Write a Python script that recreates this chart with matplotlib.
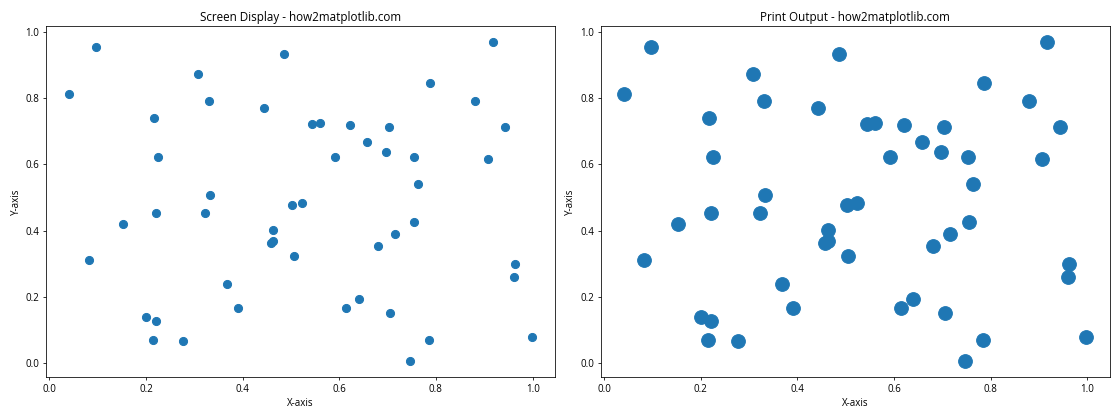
import matplotlib
matplotlib.use("Agg")
import matplotlib.pyplot as plt

plt.rcParams['font.family'] = ['Open Sans', 'DejaVu Sans']

x = [0.0413, 0.0971, 0.308, 0.3306, 0.217, 0.225, 0.4436, 0.4855, 0.3326, 0.221,
     0.3223, 0.9174, 0.787, 0.880, 0.5434, 0.560, 0.6213, 0.7025, 0.9436, 0.657,
     0.6963, 0.591, 0.754, 0.907, 0.763, 0.502, 0.5227, 0.153, 0.0826, 0.463,
     0.463, 0.458, 0.368, 0.3905, 0.1998, 0.221, 0.215, 0.277, 0.7556, 0.715,
     0.680, 0.5056, 0.963, 0.961, 0.640, 0.6136, 0.7045, 0.785, 0.746, 0.998]
y = [0.813, 0.9545, 0.873, 0.791, 0.742, 0.624, 0.770, 0.933, 0.509, 0.4545,
     0.4545, 0.9697, 0.845, 0.791, 0.721, 0.727, 0.718, 0.712, 0.712, 0.667,
     0.639, 0.624, 0.624, 0.618, 0.542, 0.476, 0.485, 0.421, 0.312, 0.403,
     0.370, 0.364, 0.239, 0.1667, 0.139, 0.127, 0.070, 0.067, 0.427, 0.391,
     0.3545, 0.324, 0.300, 0.2606, 0.194, 0.1667, 0.1515, 0.070, 0.006, 0.0788]

titles = ["Screen Display - how2matplotlib.com", "Print Output - how2matplotlib.com"]
sizes = [70, 200]

fig, axes = plt.subplots(1, 2, figsize=(16, 6), dpi=70)
for ax, title, s in zip(axes, titles, sizes):
    ax.scatter(x, y, s=s)
    ax.set_title(title)
    ax.set_xlabel("X-axis")
    ax.set_ylabel("Y-axis")
fig.tight_layout()
fig.savefig("out.png", dpi=70)
